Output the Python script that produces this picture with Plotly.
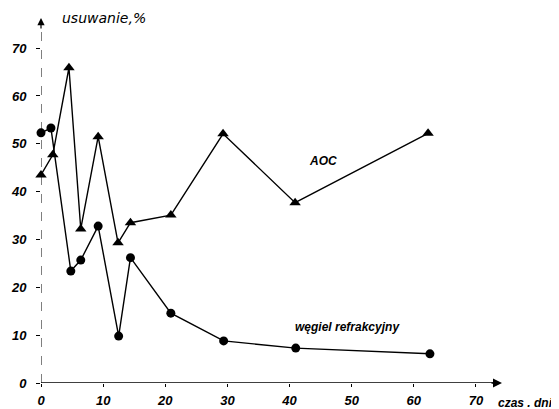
import plotly.graph_objects as go

# AOC series (triangles)
aoc_days = [0, 1.9, 4.5, 6.4, 9.2, 12.4, 14.4, 20.9, 29.3, 40.9, 62.3]
aoc_vals = [43.5, 47.7, 65.9, 32.2, 51.5, 29.3, 33.5, 35.1, 52.1, 37.7, 52.2]

# refractory carbon series (circles)
wr_days = [0, 1.6, 4.8, 6.4, 9.2, 12.5, 14.4, 20.9, 29.4, 41.0, 62.6]
wr_vals = [52.3, 53.3, 23.4, 25.7, 32.8, 9.8, 26.2, 14.6, 8.8, 7.3, 6.1]

x_ticks = [0, 10, 20, 30, 40, 50, 60, 70]
y_ticks = [0, 10, 20, 30, 40, 50, 60, 70]

XMAX = 74.2
YMAX = 76.3

tick_font = dict(family="Liberation Sans", size=13, color="black")

fig = go.Figure()
fig.add_trace(go.Scatter(
    x=aoc_days, y=aoc_vals, mode="lines+markers",
    line=dict(color="black", width=1.4),
    marker=dict(symbol="triangle-up", size=10, color="black"),
    showlegend=False, cliponaxis=False))
fig.add_trace(go.Scatter(
    x=wr_days, y=wr_vals, mode="lines+markers",
    line=dict(color="black", width=1.4),
    marker=dict(symbol="circle", size=9, color="black"),
    showlegend=False, cliponaxis=False))

# page body has an 8px margin, so the figure is made 8px smaller and shifted
fig.update_layout(
    width=551, height=401,
    margin=dict(l=33, r=57, t=10, b=26),
    plot_bgcolor="white", paper_bgcolor="white",
    xaxis=dict(range=[0, XMAX], tickvals=x_ticks, automargin=False,
               ticktext=[f"<b><i>{v}</i></b>" for v in x_ticks],
               showgrid=False, zeroline=False, showline=False,
               ticks="outside", ticklen=3, tickcolor="black",
               ticklabelstandoff=2, tickfont=tick_font),
    yaxis=dict(range=[0, YMAX], tickvals=y_ticks, automargin=False,
               ticktext=[f"<b><i>{v}</i></b>" for v in y_ticks],
               showgrid=False, zeroline=False, showline=False,
               ticks="outside", ticklen=4, tickcolor="black",
               ticklabelstandoff=7, tickfont=tick_font),
    shapes=[
        dict(type="line", xref="x", yref="y", x0=0, y0=0, x1=XMAX - 1, y1=0,
             line=dict(color="black", width=1.5)),
        dict(type="line", xref="x", yref="y", x0=0, y0=0, x1=0, y1=YMAX - 1.5,
             line=dict(color="black", width=1, dash="dash")),
    ],
    annotations=[
        dict(x=XMAX, y=0, xref="x", yref="y", ax=-12, ay=0, text="",
             showarrow=True, arrowhead=2, arrowsize=1.2, arrowwidth=1.5,
             arrowcolor="black"),
        dict(x=0, y=YMAX, xref="x", yref="y", ax=0, ay=12, text="",
             showarrow=True, arrowhead=2, arrowsize=1.2, arrowwidth=1.2,
             arrowcolor="black"),
        dict(x=10.1, y=YMAX, xref="x", yref="y", text="<i>usuwanie,%</i>",
             showarrow=False, font=dict(family="DejaVu Sans", size=14, color="black")),
        dict(x=45.4, y=46.4, xref="x", yref="y", text="<b><i>AOC</i></b>",
             showarrow=False, font=dict(family="Liberation Sans", size=12, color="black")),
        dict(x=49.4, y=11.7, xref="x", yref="y", text="<b><i>węgiel refrakcyjny</i></b>",
             showarrow=False, font=dict(family="Liberation Sans", size=12, color="black")),
        dict(x=1.0, y=0, xref="paper", yref="paper", xanchor="left", yanchor="top",
             xshift=-6, yshift=-11, text="<b><i>czas . dni</i></b>",
             showarrow=False, font=dict(family="Liberation Sans", size=12, color="black")),
    ],
)

fig.write_html("out.html")
